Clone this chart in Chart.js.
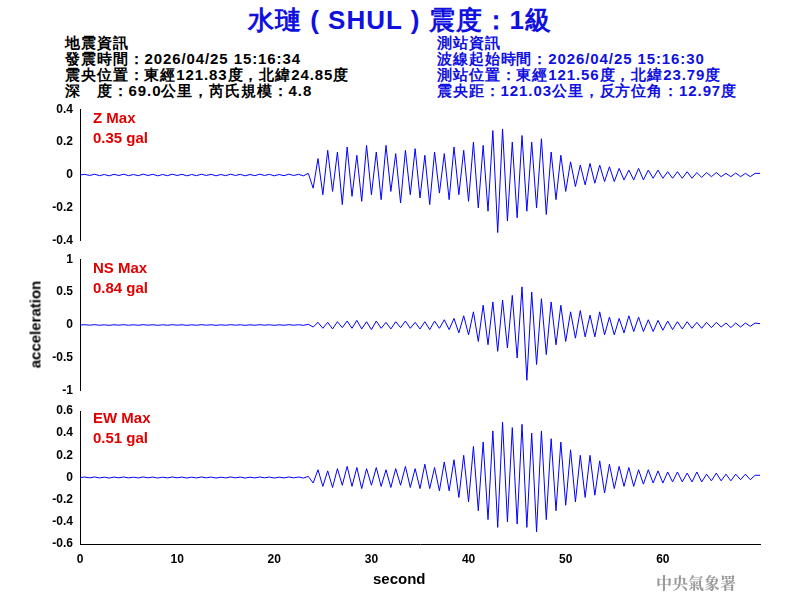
<!DOCTYPE html>
<html><head><meta charset="utf-8">
<script src="https://cdn.jsdelivr.net/npm/chart.js@4/dist/chart.umd.min.js"></script>
<style>
body{margin:0;width:800px;height:600px;background:#fff;position:relative;overflow:hidden;font-family:"Liberation Sans",Arial,sans-serif}
.t{position:absolute;white-space:nowrap}
#title{left:0;width:800px;top:3px;text-align:center;color:#1010e0;font-size:26px;font-weight:bold;letter-spacing:1px}
.info{font-size:15px;line-height:16px;font-weight:bold;letter-spacing:0.9px}
.red{color:#e00000;font-size:15px;font-weight:bold;line-height:20px}
canvas{position:absolute;left:0}
</style></head><body>
<div class="t" id="title">水璉 ( SHUL ) 震度：1級</div>
<div class="t info" style="left:65px;top:35px;color:#000">地震資訊<br>發震時間：2026/04/25 15:16:34<br>震央位置：東經121.83度，北緯24.85度<br>深　度：69.0公里，芮氏規模：4.8</div>
<div class="t info" style="left:437px;top:35px;color:#1010e0">測站資訊<br>波線起始時間：2026/04/25 15:16:30<br>測站位置：東經121.56度，北緯23.79度<br>震央距：121.03公里，反方位角：12.97度</div>
<div style="position:absolute;left:0;top:100px;width:800px;height:150px"><canvas id="cz"></canvas></div>
<div style="position:absolute;left:0;top:250px;width:800px;height:150px"><canvas id="cn"></canvas></div>
<div style="position:absolute;left:0;top:400px;width:800px;height:200px"><canvas id="ce"></canvas></div>
<div class="t red" style="left:93px;top:108px">Z Max<br>0.35 gal</div>
<div class="t red" style="left:93px;top:258px">NS Max<br>0.84 gal</div>
<div class="t red" style="left:93px;top:408px">EW Max<br>0.51 gal</div>
<div class="t" style="left:-20px;top:316px;transform:rotate(-90deg);font-size:15px;font-weight:bold;width:110px;text-align:center">acceleration</div>
<div class="t" style="left:373px;top:570px;font-size:15px;font-weight:bold">second</div>
<div class="t" style="left:656px;top:571px;font-size:16px;font-weight:bold;color:#999;font-family:'Noto Serif CJK TC','Noto Sans CJK TC',serif">中央氣象署</div>
<script>
const quiet = [0,0.004,-0.003,0.005,-0.004,0.003,-0.005,0.004,-0.003,0.005,-0.004,0.003,-0.004,0.005,-0.003,0.004,-0.005,0.003,-0.004,0.005,-0.003,0.004,-0.005,0.003,-0.004,0.005,-0.003,0.004,-0.005,0.003,-0.004,0.005,-0.003,0.004,-0.005,0.003,-0.004,0.005,-0.003,0.004,-0.005,0.003,-0.004,0.005,-0.003,0.004,-0.005];
const zWave = quiet.concat([0.01,-0.08,0.1,-0.12,0.15,-0.1,0.14,-0.18,0.17,-0.13,0.12,-0.16,0.18,-0.12,0.14,-0.15,0.18,-0.1,0.13,-0.17,0.15,-0.12,0.16,-0.14,0.12,-0.18,0.14,-0.11,0.13,-0.15,0.17,-0.12,0.15,-0.16,
 0.2,-0.2,0.18,-0.22,0.27,-0.35,0.28,-0.28,0.2,-0.26,0.24,-0.22,0.2,-0.2,0.22,-0.24,0.14,-0.15,0.12,-0.1,
 0.08,-0.07,0.06,-0.06,0.07,-0.05,0.06,-0.04,0.05,-0.04,0.04,-0.03,0.03,-0.03,0.04,-0.03,0.03,-0.02,0.03,-0.02,0.02,-0.02,0.02,-0.02,0.02,-0.02,0.015,-0.015,0.015,-0.01,0.015,-0.01,0.01,-0.01,0.012,-0.01,0.01,-0.01,0.01,0.01]);
const nsWave = quiet.concat([0.01,-0.03,0.04,-0.05,0.04,-0.06,0.05,-0.04,0.06,-0.05,0.07,-0.06,0.05,-0.07,0.06,-0.05,0.04,-0.06,0.05,-0.04,0.06,-0.05,0.04,-0.06,0.05,-0.07,0.06,-0.05,0.08,-0.07,0.1,-0.12,0.14,-0.15,
 0.2,-0.25,0.3,-0.3,0.35,-0.4,0.38,-0.35,0.45,-0.5,0.58,-0.84,0.5,-0.6,0.4,-0.45,0.35,-0.3,0.3,-0.25,
 0.2,-0.2,0.22,-0.18,0.15,-0.18,0.2,-0.15,0.12,-0.15,0.1,-0.12,0.14,-0.1,0.12,-0.1,0.08,-0.1,0.07,-0.08,0.06,-0.07,0.05,-0.06,0.05,-0.05,0.04,-0.05,0.04,-0.04,0.04,-0.03,0.03,-0.04,0.03,-0.03,0.03,-0.02,0.03,0.02]);
const ewWave = quiet.concat([0.01,-0.05,0.07,-0.08,0.06,-0.09,0.08,-0.07,0.1,-0.08,0.09,-0.1,0.08,-0.07,0.09,-0.08,0.07,-0.09,0.08,-0.07,0.1,-0.09,0.08,-0.1,0.12,-0.1,0.09,-0.12,0.14,-0.12,0.16,-0.18,0.2,-0.22,
 0.28,-0.3,0.32,-0.38,0.42,-0.45,0.5,-0.4,0.45,-0.42,0.48,-0.45,0.4,-0.49,0.42,-0.38,0.35,-0.3,0.32,-0.25,
 0.25,-0.22,0.2,-0.18,0.2,-0.16,0.15,-0.14,0.12,-0.1,0.1,-0.08,0.09,-0.08,0.07,-0.06,0.07,-0.05,0.06,-0.05,0.05,-0.04,0.05,-0.04,0.04,-0.04,0.05,-0.04,0.03,-0.03,0.04,-0.03,0.03,-0.03,0.03,-0.02,0.03,-0.02,0.02,0.02]);
const seconds = zWave.map((_, i) => i * 0.5);

const tickFont = {family: 'Liberation Sans', size: 12, weight: 'bold'};

function panel(id, values, min, max, step, showX, padTop, xHeight){
  new Chart(id, {
    type: 'line',
    data: {datasets: [{data: values.map((v, i) => ({x: seconds[i], y: v})), borderColor: '#0000ff', borderWidth: 1, pointRadius: 0, tension: 0}]},
    options: {
      responsive: true, maintainAspectRatio: false, animation: false,
      layout: {padding: {top: padTop, bottom: showX ? 0 : 7, right: 40, left: 0}},
      plugins: {legend: {display: false}, tooltip: {enabled: false}},
      scales: {
        x: {type: 'linear', min: 0, max: 70, display: showX,
          grid: {display: false, drawTicks: true, tickLength: 5},
          border: {color: '#000'},
          ticks: {stepSize: 10, color: '#000', font: tickFont, callback: v => v <= 60 ? v : ''},
          afterFit: s => { if (showX) s.height = xHeight; }},
        y: {min: min, max: max,
          grid: {display: false, drawTicks: true, tickLength: 5},
          border: {color: '#000'},
          ticks: {stepSize: step, color: '#000', font: tickFont, padding: 2, callback: v => String(Number(v.toFixed(2)))},
          afterFit: s => { s.width = 80; }}
      }
    }
  });
}
panel('cz', zWave, -0.4, 0.4, 0.2, false, 8, 0);
panel('cn', nsWave, -1, 1, 0.5, false, 8, 0);
panel('ce', ewWave, -0.6, 0.6, 0.2, true, 11, 56);
</script>
</body></html>
